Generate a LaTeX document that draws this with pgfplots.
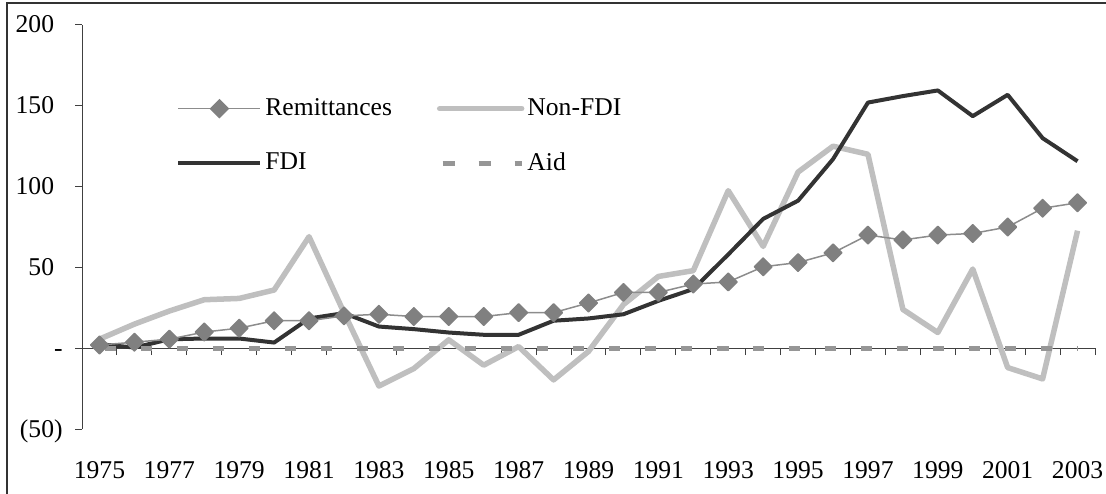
\documentclass[border=0pt]{standalone}
\usepackage{fontspec}
\setmainfont{Liberation Serif}
\usepackage{pgfplots}
\pgfplotsset{compat=1.18}
\usepackage{pgfplotstable}
\definecolor{remc}{RGB}{128,128,128}
\definecolor{remline}{RGB}{140,140,140}
\definecolor{nonc}{RGB}{191,191,191}
\definecolor{fdic}{RGB}{51,51,51}
\definecolor{aidc}{RGB}{150,150,150}
\definecolor{axc}{RGB}{64,64,64}
\pgfplotstableread{
year rem non fdi aid
1975 2 5.6 2.5 0
1976 3.7 14.9 0.4 0
1977 5.6 23 5.5 0
1978 10 30 6 0
1979 12.4 30.8 6 0
1980 17 36 3.5 0
1981 17 69 18.4 0
1982 20 22 21.7 0
1983 21 -23.4 13.4 0
1984 19.6 -12.6 11.8 0
1985 19.6 5.2 9.7 0
1986 19.6 -10.5 8.3 0
1987 22 1 8.3 0
1988 22 -19.6 17 0
1989 28 -2 18.4 0
1990 34.5 27 21 0
1991 34.5 44.4 29.3 0
1992 39.7 48 36.6 0
1993 41 97.5 58 0
1994 50.4 63 80 0
1995 53 109 91.3 0
1996 59 125 117 0
1997 70 120 152 0
1998 67 24 156 0
1999 70 9.7 159.5 0
2000 71 49 143.6 0
2001 75 -12 156.8 0
2002 86.6 -19 130 0
2003 90 72.7 115.7 0
}\data
\begin{document}
\begin{tikzpicture}[font=\fontsize{12.8}{14}\selectfont]
\useasboundingbox (0,0) rectangle (553pt,246.5pt);
\draw[line width=1pt, fdic] (3.3pt,-5pt) -- (3.3pt,245pt) -- (560pt,245pt);
\begin{axis}[
  at={(41pt,32pt)}, anchor=south west,
  scale only axis, width=506.5pt, height=202pt,
  xmin=1974.5, xmax=2003.5, ymin=-50, ymax=200,
  axis y line*=left, axis x line*=middle,
  axis line style={axc, line width=0.5pt, -},
  x axis line style={-}, y axis line style={-},
  xtick={1974.5,1975.5,...,2003.5}, xticklabels={},
  xtick align=center,
  x tick style={axc, line width=0.5pt, yshift=-1.75pt},
  ytick={-50,0,50,100,150,200},
  yticklabels={(50),{-\hspace{21pt}},{50\phantom{)}},{100\phantom{)}},{150\phantom{)}},{200\phantom{)}}},
  ytick align=outside, y tick style={axc, line width=0.5pt},
  major tick length=3.5pt,
  yticklabel style={anchor=base east, inner sep=0pt, yshift=-4pt, xshift=-6pt},
  legend image code/.code={\draw[mark repeat=2, mark phase=2, #1] plot coordinates {(0pt,0pt) (20.5pt,0pt) (41pt,0pt)};},
  legend columns=2,
  legend cell align=left,
  legend style={draw=none, fill=none, at={(axis description cs:0.0928,0.826)}, anchor=north west,
    inner sep=0pt, row sep=14pt, font=\fontsize{12.8}{14}\selectfont,
    /tikz/every even column/.append style={column sep=21pt},
    nodes={inner sep=1.5pt}},
]
\addlegendimage{remline, line width=0.75pt, mark=square*, mark size=3.1pt, mark options={rotate=45, fill=remc, draw=remc, solid}}
\addlegendentry{Remittances}
\addlegendimage{nonc, line width=2.75pt, line cap=round}
\addlegendentry{Non-FDI}
\addlegendimage{fdic, line width=2pt}
\addlegendentry{FDI}
\addlegendimage{aidc, line width=2.5pt, dash pattern=on 6pt off 12pt, dash phase=16.5pt}
\addlegendentry{Aid}
\addplot[nonc, line width=2.75pt, line join=round, forget plot] table[x=year,y=non] {\data};
\addplot[fdic, line width=2pt, line join=round, forget plot] table[x=year,y=fdi] {\data};
\addplot[aidc, line width=2.6pt, dash pattern=on 5.8pt off 12.2pt, dash phase=15.3pt, forget plot] table[x=year,y=aid] {\data};
\addplot[remline, line width=0.75pt, line join=round, mark=square*, mark size=3.1pt, mark options={rotate=45, fill=remc, draw=remc}, forget plot] table[x=year,y=rem] {\data};
\end{axis}
\begin{axis}[
  at={(41pt,32pt)}, anchor=south west,
  scale only axis, width=506.5pt, height=202pt,
  xmin=1974.5, xmax=2003.5, ymin=-50, ymax=200,
  axis x line*=bottom, axis y line=none, x axis line style={draw=none},
  xtick={1975,1977,1979,1981,1983,1985,1987,1989,1991,1993,1995,1997,1999,2001,2003},
  xticklabels={1975,1977,1979,1981,1983,1985,1987,1989,1991,1993,1995,1997,1999,2001,2003},
  major tick length=0pt, ytick=\empty,
  xticklabel style={anchor=base, yshift=-24.5pt, inner sep=0pt},
]
\end{axis}
\end{tikzpicture}
\end{document}
